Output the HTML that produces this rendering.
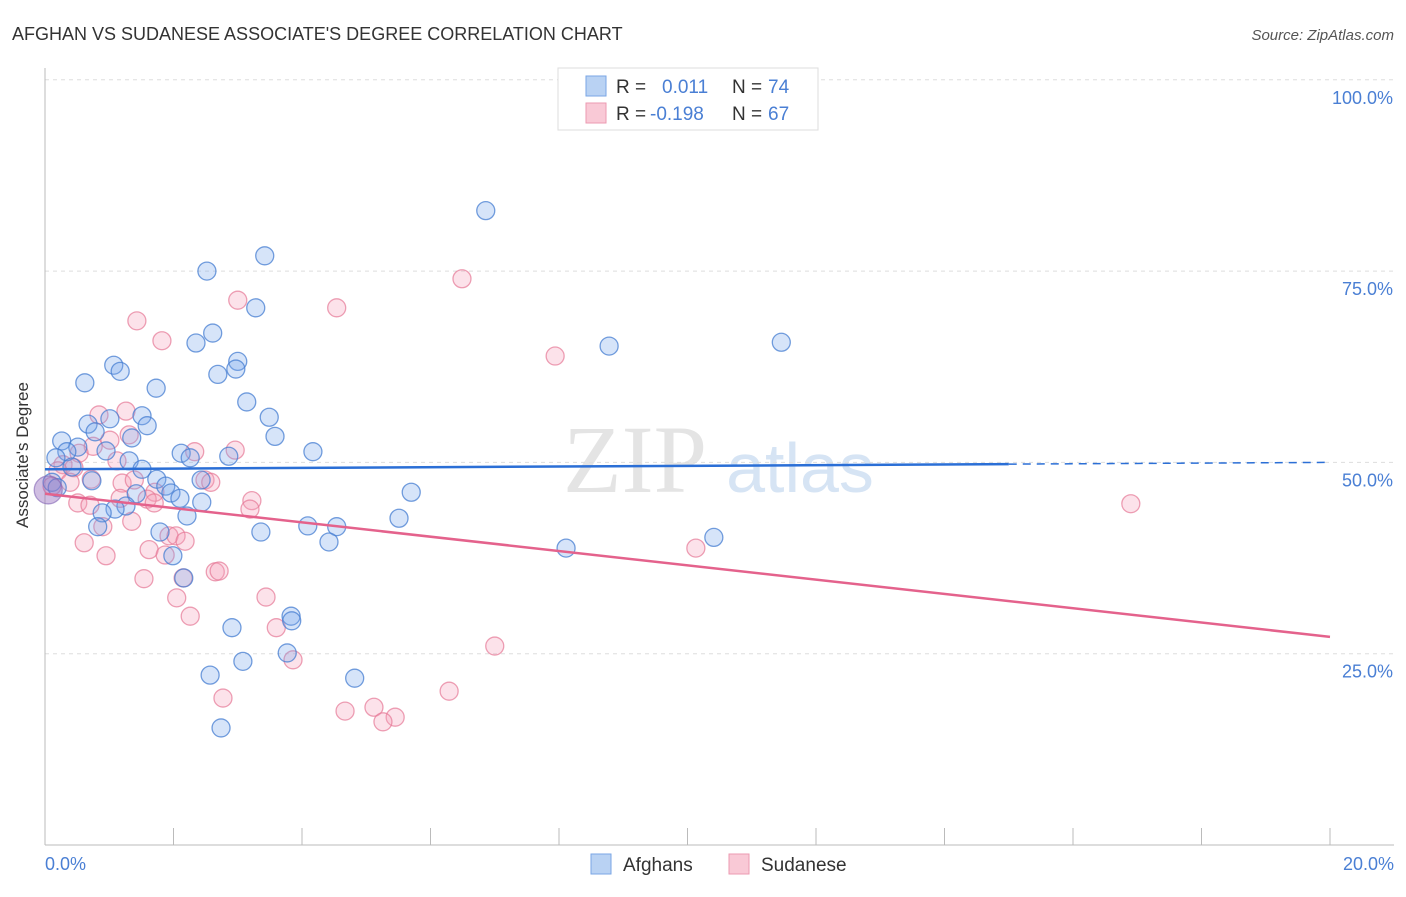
<!DOCTYPE html>
<html><head><meta charset="utf-8"><style>
body{margin:0;background:#fff;font-family:"Liberation Sans",sans-serif}
</style></head><body>
<svg id="chart" width="1406" height="892" xmlns="http://www.w3.org/2000/svg">
<text x="12" y="40" font-size="18" fill="#333">AFGHAN VS SUDANESE ASSOCIATE'S DEGREE CORRELATION CHART</text>
<text x="1394" y="40" font-size="15" fill="#555" font-style="italic" text-anchor="end">Source: ZipAtlas.com</text>
<text x="635" y="492" font-size="96" fill="#e4e4e4" font-family="Liberation Serif" text-anchor="middle">ZIP</text>
<text x="800" y="492" font-size="70" fill="#d6e4f4" text-anchor="middle">atlas</text>
<g id="grid"></g><g id="axes"></g><g id="pts"></g><g id="trends"></g>
<text x="28" y="455" font-size="17" fill="#333" transform="rotate(-90 28 455)" text-anchor="middle">Associate's Degree</text>
<text x="45" y="870" font-size="18" fill="#4a7fd4">0.0%</text>
<text x="1394" y="870" font-size="18" fill="#4a7fd4" text-anchor="end">20.0%</text>
<g>
<rect x="558" y="68" width="260" height="62" fill="#fff" stroke="#ddd"/>
<rect x="586" y="76" width="20" height="20" fill="#b9d2f3" stroke="#7aa6e4"/>
<rect x="586" y="103" width="20" height="20" fill="#f9c9d6" stroke="#ec9ab1"/>
<text x="616" y="93" font-size="19" fill="#333">R = </text><text x="662" y="93" font-size="19" fill="#4a7fd4">0.011</text>
<text x="732" y="93" font-size="19" fill="#333">N = </text><text x="768" y="93" font-size="19" fill="#4a7fd4">74</text>
<text x="616" y="120" font-size="19" fill="#333">R = </text><text x="650" y="120" font-size="19" fill="#4a7fd4">-0.198</text>
<text x="732" y="120" font-size="19" fill="#333">N = </text><text x="768" y="120" font-size="19" fill="#4a7fd4">67</text>
</g>
<g>
<rect x="591" y="854" width="20" height="20" fill="#b9d2f3" stroke="#7aa6e4"/>
<text x="623" y="871" font-size="19" fill="#333">Afghans</text>
<rect x="729" y="854" width="20" height="20" fill="#f9c9d6" stroke="#ec9ab1"/>
<text x="761" y="871" font-size="19" fill="#333">Sudanese</text>
</g>
</svg>
<script>
const yTicks=[25,50,75,100];
const yTickLabels=["25.0%","50.0%","75.0%","100.0%"];
const xTicks=[0,2,4,6,8,10,12,14,16,18,20];
const afghanX=[6.86,3.42,2.52,3.28,2.61,2.35,8.78,11.46,1.07,3.00,1.17,2.97,2.69,0.62,1.73,3.14,1.51,3.49,1.01,0.67,1.59,0.78,3.58,1.35,0.26,0.51,0.34,0.95,4.17,2.12,2.26,2.86,0.17,1.31,0.42,1.51,0.73,1.74,1.88,0.11,2.43,0.19,5.70,1.42,1.96,2.10,2.44,1.26,1.09,0.89,2.21,5.51,0.82,4.09,4.54,1.79,3.36,10.41,4.42,8.11,1.99,2.16,3.83,3.84,2.91,3.77,3.08,2.57,4.82,2.74];
const afghanY=[82.9,77.0,75.0,70.2,66.9,65.6,65.2,65.7,62.7,63.2,61.9,62.2,61.5,60.4,59.7,57.9,56.1,55.9,55.7,55.0,54.8,54.0,53.4,53.2,52.8,52.0,51.4,51.5,51.4,51.2,50.6,50.8,50.6,50.2,49.4,49.1,47.6,47.8,46.9,47.4,47.7,46.7,46.1,45.9,46.0,45.3,44.8,44.3,43.9,43.4,43.0,42.7,41.6,41.7,41.6,40.9,40.9,40.2,39.6,38.8,37.8,34.9,29.9,29.3,28.4,25.1,24.0,22.2,21.8,15.3];
const sudX=[6.49,3.00,4.54,1.43,1.82,7.94,1.26,0.84,1.01,1.31,0.75,0.53,2.33,2.96,1.12,0.28,0.45,0.20,0.72,0.39,0.11,1.20,1.39,2.49,2.58,1.71,1.59,1.17,1.70,3.22,0.51,0.70,3.19,16.90,1.35,0.90,1.93,2.04,2.18,0.61,10.13,1.62,1.87,0.95,1.54,2.15,2.65,2.71,2.05,3.44,2.26,3.60,3.86,7.00,6.29,2.77,5.12,4.67,5.45,5.26];
const sudY=[74.0,71.2,70.2,68.5,65.9,63.9,56.7,56.2,52.9,53.6,52.1,51.2,51.4,51.6,50.2,49.7,49.3,48.9,47.8,47.4,46.9,47.3,47.7,47.7,47.4,46.1,45.2,45.3,44.7,45.0,44.7,44.4,43.9,44.6,42.3,41.6,40.4,40.4,39.7,39.5,38.8,38.6,37.9,37.8,34.8,34.9,35.7,35.8,32.3,32.4,29.9,28.4,24.2,26.0,20.1,19.2,18.0,17.5,16.7,16.1];
const afghanTrend=[49.1,50.0];
const sudTrend=[45.9,27.2];
const X=v=>45+v/20*1285, Y=v=>845-v/100*765.2;
const NS="http://www.w3.org/2000/svg";
function mk(t,a,p){const e=document.createElementNS(NS,t);for(const k in a)e.setAttribute(k,a[k]);p.appendChild(e);return e;}
const grid=document.getElementById('grid'),axes=document.getElementById('axes'),pts=document.getElementById('pts'),tr=document.getElementById('trends');
yTicks.forEach((t,i)=>{
 const l=mk('line',{x1:45,x2:1394,y1:Y(t),y2:Y(t),stroke:'#ddd','stroke-dasharray':'4,4'},grid);
 
 
 const tx=mk('text',{x:1393,y:Y(t)+24,'font-size':18,fill:'#4a7fd4','text-anchor':'end'},grid);
 tx.textContent=yTickLabels[i];
 
 
});
const ax=mk('line',{x1:45,x2:45,y1:68,y2:845,stroke:'#bbb'},axes);


const bx=mk('line',{x1:45,x2:1394,y1:845,y2:845,stroke:'#bbb'},axes);


xTicks.forEach(t=>{const l=mk('line',{x1:X(t),x2:X(t),y1:828,y2:845,stroke:'#bbb'},axes);
 
 });
function dot(x,y,r,f,s,n){const c=mk('circle',{cx:X(x),cy:Y(y),r:r,fill:f,stroke:s,'stroke-width':1.3},pts);
 
 }
sudX.forEach((x,i)=>dot(x,sudY[i],9,'rgba(245,160,185,0.3)','rgba(230,120,150,0.7)','sudanese-point'));
afghanX.forEach((x,i)=>dot(x,afghanY[i],9,'rgba(120,165,235,0.3)','rgba(70,125,210,0.75)','afghan-point'));
dot(0.05,46.4,14,'rgba(150,110,190,0.45)','rgba(130,100,180,0.6)','cluster-point');
const bt=v=>afghanTrend[0]+(afghanTrend[1]-afghanTrend[0])*v/20;
let l1=mk('line',{x1:X(0),y1:Y(bt(0)),x2:X(15),y2:Y(bt(15)),stroke:'#2b6fd6','stroke-width':2.5},tr);


let l2=mk('line',{x1:X(15),y1:Y(bt(15)),x2:X(20),y2:Y(bt(20)),stroke:'#2b6fd6','stroke-width':1.5,'stroke-dasharray':'8,6'},tr);


let l3=mk('line',{x1:X(0),y1:Y(sudTrend[0]),x2:X(20),y2:Y(sudTrend[1]),stroke:'#e4628c','stroke-width':2.5},tr);


</script>
</body></html>
